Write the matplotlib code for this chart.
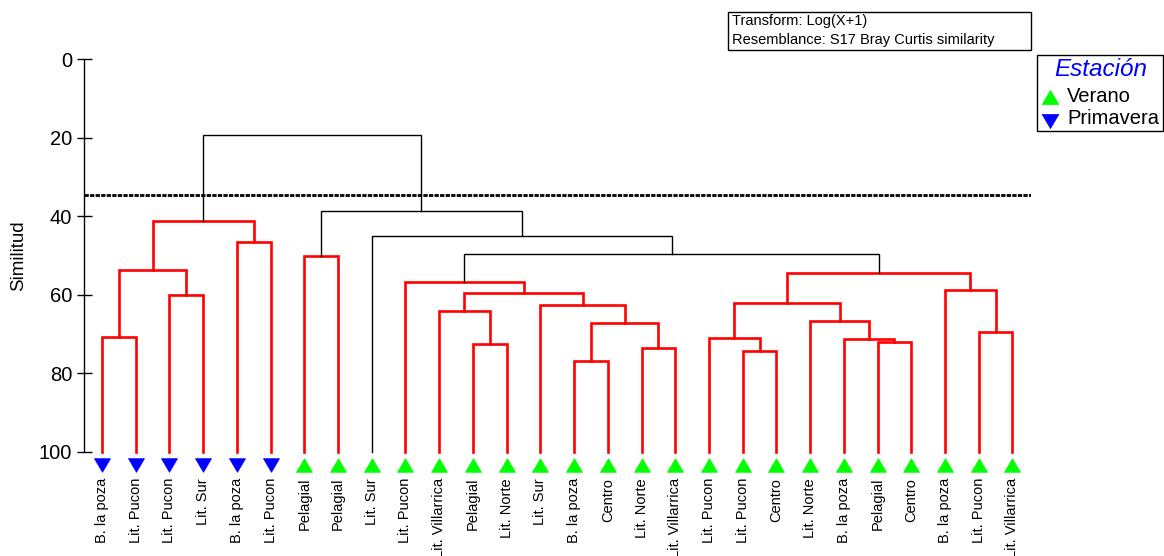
import matplotlib
matplotlib.use("Agg")
import matplotlib.pyplot as plt
from matplotlib.lines import Line2D
from matplotlib.patches import Rectangle

plt.rcParams['font.family'] = ['Liberation Sans', 'DejaVu Sans']

W, H = 1164, 556

# Sample labels in dendrogram leaf order
labels = [
    "B. la poza", "Lit. Pucon", "Lit. Pucon", "Lit. Sur", "B. la poza", "Lit. Pucon",
    "Pelagial", "Pelagial", "Lit. Sur", "Lit. Pucon", "Lit. Villarrica", "Pelagial",
    "Lit. Norte", "Lit. Sur", "B. la poza", "Centro", "Lit. Norte", "Lit. Villarrica",
    "Lit. Pucon", "Lit. Pucon", "Centro", "Lit. Norte", "B. la poza", "Pelagial",
    "Centro", "B. la poza", "Lit. Pucon", "Lit. Villarrica",
]
seasons = ["Primavera"] * 6 + ["Verano"] * 22

# Agglomeration steps: (child a, child b, similarity, SIMPROF-homogeneous group)
# Node ids >= number of leaves refer to earlier merges.
merge_a = [0, 2, 28, 4, 30, 6, 11, 10, 14, 16, 36, 13, 35, 9, 19, 18, 23, 22, 21, 43, 26, 25, 47, 41, 8, 33, 32]
merge_b = [1, 3, 29, 5, 31, 7, 12, 34, 15, 17, 37, 38, 39, 40, 20, 42, 24, 44, 45, 46, 27, 48, 49, 50, 51, 52, 53]
merge_sim = [70.7, 60.0, 53.7, 46.5, 41.1, 50.1, 72.6, 64.1, 76.9, 73.7, 67.1, 62.5, 59.5, 56.7,
             74.3, 71.0, 72.0, 71.3, 66.8, 62.1, 69.4, 58.8, 54.4, 49.7, 45.0, 38.7, 19.3]
merge_same = [True] * 23 + [False] * 4

cut_level = 34.7

# Slightly flattened triangles for the season symbols
tri_up = [(-1.0, -0.85), (1.0, -0.85), (0.0, 0.85), (-1.0, -0.85)]
tri_down = [(-1.0, 0.85), (1.0, 0.85), (0.0, -0.85), (-1.0, 0.85)]
season_style = {
    "Verano": (tri_up, "#00ff00"),
    "Primavera": (tri_down, "#0000ff"),
}

fig = plt.figure(figsize=(W / 100, H / 100), dpi=100)
ax = fig.add_axes([84 / W, 1 - 451.7 / H, (1031 - 84) / W, (451.7 - 59.3) / H])
n = len(labels)
ax.set_xlim(-0.534, n - 1 + 0.55)
ax.set_ylim(100, 0)

# Draw the dendrogram links
xpos = {i: float(i) for i in range(n)}
level = {i: 100.0 for i in range(n)}
for k, (a, b, s, same) in enumerate(zip(merge_a, merge_b, merge_sim, merge_same)):
    col = "#ff0000" if same else "black"
    lw = 1.9 if same else 1.0
    ax.plot([xpos[a], xpos[a], xpos[b], xpos[b]], [level[a], s, s, level[b]],
            color=col, lw=lw, solid_joinstyle="miter", clip_on=False, zorder=2)
    xpos[n + k] = (xpos[a] + xpos[b]) / 2
    level[n + k] = s

# Similarity cut line
ax.axhline(cut_level, color="black", lw=2, dashes=(1.55, 0.45), zorder=3)

# Leaf symbols and labels
for i, (lab, s) in enumerate(zip(labels, seasons)):
    m, c = season_style[s]
    ax.plot(i, 103.4, marker=m, color=c, ms=11.5, mec=c, mew=0.5, clip_on=False, zorder=4)
    ax.text(i, 106.7, lab, rotation=90, ha="center", va="top", fontsize=10.5, clip_on=False)

ax.set_yticks([0, 20, 40, 60, 80, 100])
ax.set_xticks([])
ax.tick_params(axis="y", direction="inout", length=10.8, width=1, labelsize=14.5, pad=3)
for side in ("top", "right", "bottom"):
    ax.spines[side].set_visible(False)
ax.spines["left"].set_linewidth(1)

fig.text(19 / W, 1 - 256 / H, "Similitud", rotation=90, ha="center", va="center", fontsize=13.5)

# Transform / resemblance note
fig.add_artist(Rectangle((727.7 / W, 1 - 50 / H), (1031 - 727.7) / W, (50 - 11.7) / H,
                         fill=False, ec="black", lw=1, transform=fig.transFigure))
fig.text(732 / W, 1 - 20.5 / H, "Transform: Log(X+1)", va="center", fontsize=10.5)
fig.text(732 / W, 1 - 40 / H, "Resemblance: S17 Bray Curtis similarity", va="center", fontsize=10.5)

# Legend
fig.add_artist(Rectangle((1037 / W, 1 - 131 / H), (1163 - 1037) / W, (131 - 55) / H,
                         fill=False, ec="black", lw=1, transform=fig.transFigure))
fig.text(1101 / W, 1 - 69 / H, "Estación", color="#0000ff", style="italic",
         ha="center", va="center", fontsize=17.5)
for s, yy, ym in (("Verano", 97, 97), ("Primavera", 119, 121)):
    m, c = season_style[s]
    fig.add_artist(Line2D([1050 / W], [1 - ym / H], marker=m, color=c, mec=c, ms=12, mew=0.5,
                          linestyle="none", transform=fig.transFigure))
    fig.text(1067 / W, 1 - yy / H, s, va="center", fontsize=14.5)

fig.savefig("out.png", dpi=100)
